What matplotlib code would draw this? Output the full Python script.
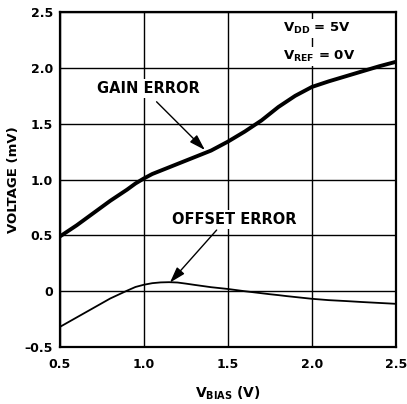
import matplotlib
matplotlib.use("Agg")
import matplotlib.pyplot as plt

plt.rcParams["font.family"] = ["DejaVu Sans"]
plt.rcParams["font.weight"] = "bold"
plt.rcParams["mathtext.fontset"] = "custom"
plt.rcParams["mathtext.rm"] = "DejaVu Sans:bold"
plt.rcParams["mathtext.it"] = "DejaVu Sans:bold"
plt.rcParams["mathtext.bf"] = "DejaVu Sans:bold"

# values
v_bias = [0.5, 0.6, 0.7, 0.8, 0.85, 0.9, 0.95, 1.0, 1.05, 1.1, 1.15, 1.2, 1.25, 1.3, 1.4, 1.5,
          1.6, 1.7, 1.75, 1.8, 1.85, 1.9, 1.95, 2.0, 2.05, 2.1, 2.2, 2.3, 2.4, 2.5]
gain_error = [0.49, 0.59, 0.70, 0.81, 0.86, 0.91, 0.965, 1.01, 1.05, 1.08, 1.11, 1.14, 1.17, 1.20,
              1.26, 1.34, 1.43, 1.53, 1.59, 1.65, 1.70, 1.75, 1.79, 1.83, 1.855, 1.88, 1.925,
              1.97, 2.015, 2.055]
offset_error = [-0.32, -0.235, -0.15, -0.065, -0.03, 0.005, 0.038, 0.058, 0.072, 0.079, 0.081,
                0.078, 0.068, 0.057, 0.036, 0.02, 0.0, -0.018, -0.027, -0.035, -0.044, -0.052,
                -0.06, -0.068, -0.074, -0.08, -0.088, -0.097, -0.105, -0.113]
x_ticks = [0.5, 1.0, 1.5, 2.0, 2.5]
x_tick_labels = ["0.5", "1.0", "1.5", "2.0", "2.5"]
y_ticks = [-0.5, 0, 0.5, 1.0, 1.5, 2.0, 2.5]
y_tick_labels = ["\u20130.5", "0", "0.5", "1.0", "1.5", "2.0", "2.5"]

fig = plt.figure(figsize=(4.07, 4.04), dpi=100)
ax = fig.add_axes([0.147, 0.141, 0.826, 0.829])

ax.plot(v_bias, gain_error, color="black", lw=2.8, zorder=3)
ax.plot(v_bias, offset_error, color="black", lw=1.3, zorder=3)

ax.set_xlim(0.5, 2.5)
ax.set_ylim(-0.5, 2.5)
ax.set_xticks(x_ticks)
ax.set_xticklabels(x_tick_labels)
ax.set_yticks(y_ticks)
ax.set_yticklabels(y_tick_labels)
ax.tick_params(length=0, labelsize=9)
ax.tick_params(axis="x", pad=8)
ax.tick_params(axis="y", pad=5)
ax.grid(True, color="black", lw=1.0)
for s in ax.spines.values():
    s.set_linewidth(1.6)

ax.set_xlabel(r"$\mathrm{V_{BIAS}}$ (V)", fontsize=10, fontweight="bold", labelpad=10)
ax.set_ylabel("VOLTAGE (mV)", fontsize=9.5, fontweight="bold", labelpad=3)

white = dict(boxstyle="square,pad=0.15", fc="white", ec="none")
head = dict(arrowstyle="-|>,head_length=0.8,head_width=0.25", color="black",
            lw=1.0, mutation_scale=12, shrinkA=0, shrinkB=0)

ax.text(1.024, 1.815, "GAIN ERROR", ha="center", va="center",
        fontsize=10.5, fontweight="bold", bbox=white, zorder=4)
ax.annotate("", xy=(1.363, 1.265), xytext=(1.0755, 1.697), arrowprops=head, zorder=4)

ax.text(1.539, 0.642, "OFFSET ERROR", ha="center", va="center",
        fontsize=10.5, fontweight="bold", bbox=white, zorder=4)
ax.annotate("", xy=(1.155, 0.077), xytext=(1.433, 0.548), arrowprops=head, zorder=4)

ax.text(1.83, 2.35, r"$\mathrm{V_{DD}}$ = 5V", fontsize=9.5, fontweight="bold",
        ha="left", va="center", bbox=white, zorder=4)
ax.text(1.83, 2.105, r"$\mathrm{V_{REF}}$ = 0V", fontsize=9.5, fontweight="bold",
        ha="left", va="center", bbox=white, zorder=4)

fig.savefig("out.png", dpi=100)
